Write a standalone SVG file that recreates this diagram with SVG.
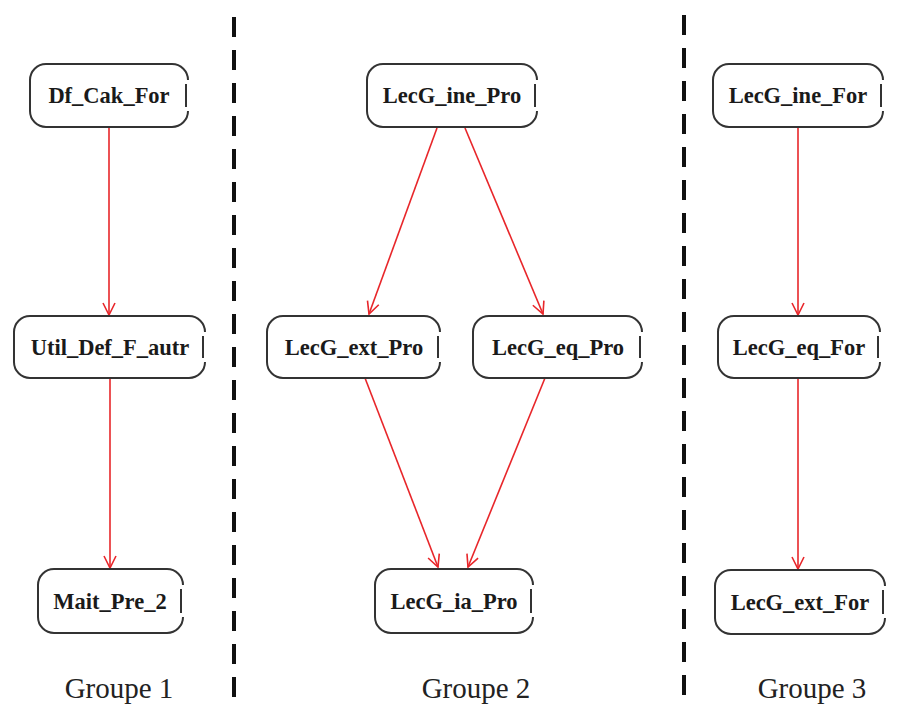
<svg xmlns="http://www.w3.org/2000/svg" width="898" height="707" viewBox="0 0 898 707">
<defs>
<style>
.box{fill:#fff;stroke:#333;stroke-width:2}
.lbl{font-family:"Liberation Serif",serif;font-weight:bold;font-size:22.5px;fill:#1a1a1a;text-anchor:middle}
.grp{font-family:"Liberation Serif",serif;font-size:29px;fill:#222;text-anchor:middle}
.edge{stroke:#e8262a;stroke-width:1.6;fill:none;marker-end:url(#arr)}
.sep{stroke:#111;stroke-width:4;stroke-dasharray:20 13}
</style>
<marker id="arr" viewBox="0 0 14 14" refX="13" refY="7" markerWidth="14" markerHeight="14" markerUnits="userSpaceOnUse" orient="auto">
<path d="M1,1 L13,7 L1,13" fill="none" stroke="#e8262a" stroke-width="1.6"/>
</marker>
</defs>
<rect width="898" height="707" fill="#fff"/>
<g id="separators">
<line class="sep" x1="234" y1="17" x2="234" y2="707"/>
<line class="sep" x1="684" y1="15" x2="684" y2="707"/>
</g>
<g id="connectors">
<line class="edge" x1="109" y1="128" x2="109" y2="315"/>
<line class="edge" x1="110" y1="378" x2="110" y2="568"/>
<line class="edge" x1="437" y1="128" x2="369" y2="314"/>
<line class="edge" x1="465" y1="128" x2="543" y2="314"/>
<line class="edge" x1="365" y1="378" x2="438" y2="567"/>
<line class="edge" x1="545" y1="378" x2="468" y2="567"/>
<line class="edge" x1="798" y1="128" x2="798" y2="315"/>
<line class="edge" x1="798" y1="378" x2="798" y2="569"/>
</g>
<g id="n1"><path class="box" d="M188,111 A16,16 0 0 1 172,127 H46 A16,16 0 0 1 30,111 V80 A16,16 0 0 1 46,64 H172 A16,16 0 0 1 188,80 M186,84 V107"/><text class="lbl" x="109" y="103">Df_Cak_For</text></g>
<g id="n2"><path class="box" d="M205,362 A16,16 0 0 1 189,378 H30 A16,16 0 0 1 14,362 V332 A16,16 0 0 1 30,316 H189 A16,16 0 0 1 205,332 M203,336 V358"/><text class="lbl" x="110" y="355">Util_Def_F_autr</text></g>
<g id="n3"><path class="box" d="M183,617 A16,16 0 0 1 167,633 H54 A16,16 0 0 1 38,617 V585 A16,16 0 0 1 54,569 H167 A16,16 0 0 1 183,585 M181,589 V613"/><text class="lbl" x="110" y="609">Mait_Pre_2</text></g>
<g id="n4"><path class="box" d="M537,111 A16,16 0 0 1 521,127 H383 A16,16 0 0 1 367,111 V80 A16,16 0 0 1 383,64 H521 A16,16 0 0 1 537,80 M535,84 V107"/><text class="lbl" x="452" y="103">LecG_ine_Pro</text></g>
<g id="n5"><path class="box" d="M440,362 A16,16 0 0 1 424,378 H283 A16,16 0 0 1 267,362 V332 A16,16 0 0 1 283,316 H424 A16,16 0 0 1 440,332 M438,336 V358"/><text class="lbl" x="354" y="355">LecG_ext_Pro</text></g>
<g id="n6"><path class="box" d="M642,362 A16,16 0 0 1 626,378 H489 A16,16 0 0 1 473,362 V332 A16,16 0 0 1 489,316 H626 A16,16 0 0 1 642,332 M640,336 V358"/><text class="lbl" x="558" y="355">LecG_eq_Pro</text></g>
<g id="n7"><path class="box" d="M533,617 A16,16 0 0 1 517,633 H391 A16,16 0 0 1 375,617 V585 A16,16 0 0 1 391,569 H517 A16,16 0 0 1 533,585 M531,589 V613"/><text class="lbl" x="454" y="609">LecG_ia_Pro</text></g>
<g id="n8"><path class="box" d="M883,111 A16,16 0 0 1 867,127 H729 A16,16 0 0 1 713,111 V80 A16,16 0 0 1 729,64 H867 A16,16 0 0 1 883,80 M881,84 V107"/><text class="lbl" x="798" y="103">LecG_ine_For</text></g>
<g id="n9"><path class="box" d="M880,362 A16,16 0 0 1 864,378 H734 A16,16 0 0 1 718,362 V332 A16,16 0 0 1 734,316 H864 A16,16 0 0 1 880,332 M878,336 V358"/><text class="lbl" x="799" y="355">LecG_eq_For</text></g>
<g id="n10"><path class="box" d="M885,618 A16,16 0 0 1 869,634 H731 A16,16 0 0 1 715,618 V586 A16,16 0 0 1 731,570 H869 A16,16 0 0 1 885,586 M883,590 V614"/><text class="lbl" x="800" y="610">LecG_ext_For</text></g>
<g id="labels">
<text class="grp" x="119" y="698">Groupe 1</text>
<text class="grp" x="476" y="698">Groupe 2</text>
<text class="grp" x="812" y="698">Groupe 3</text>
</g>
</svg>
